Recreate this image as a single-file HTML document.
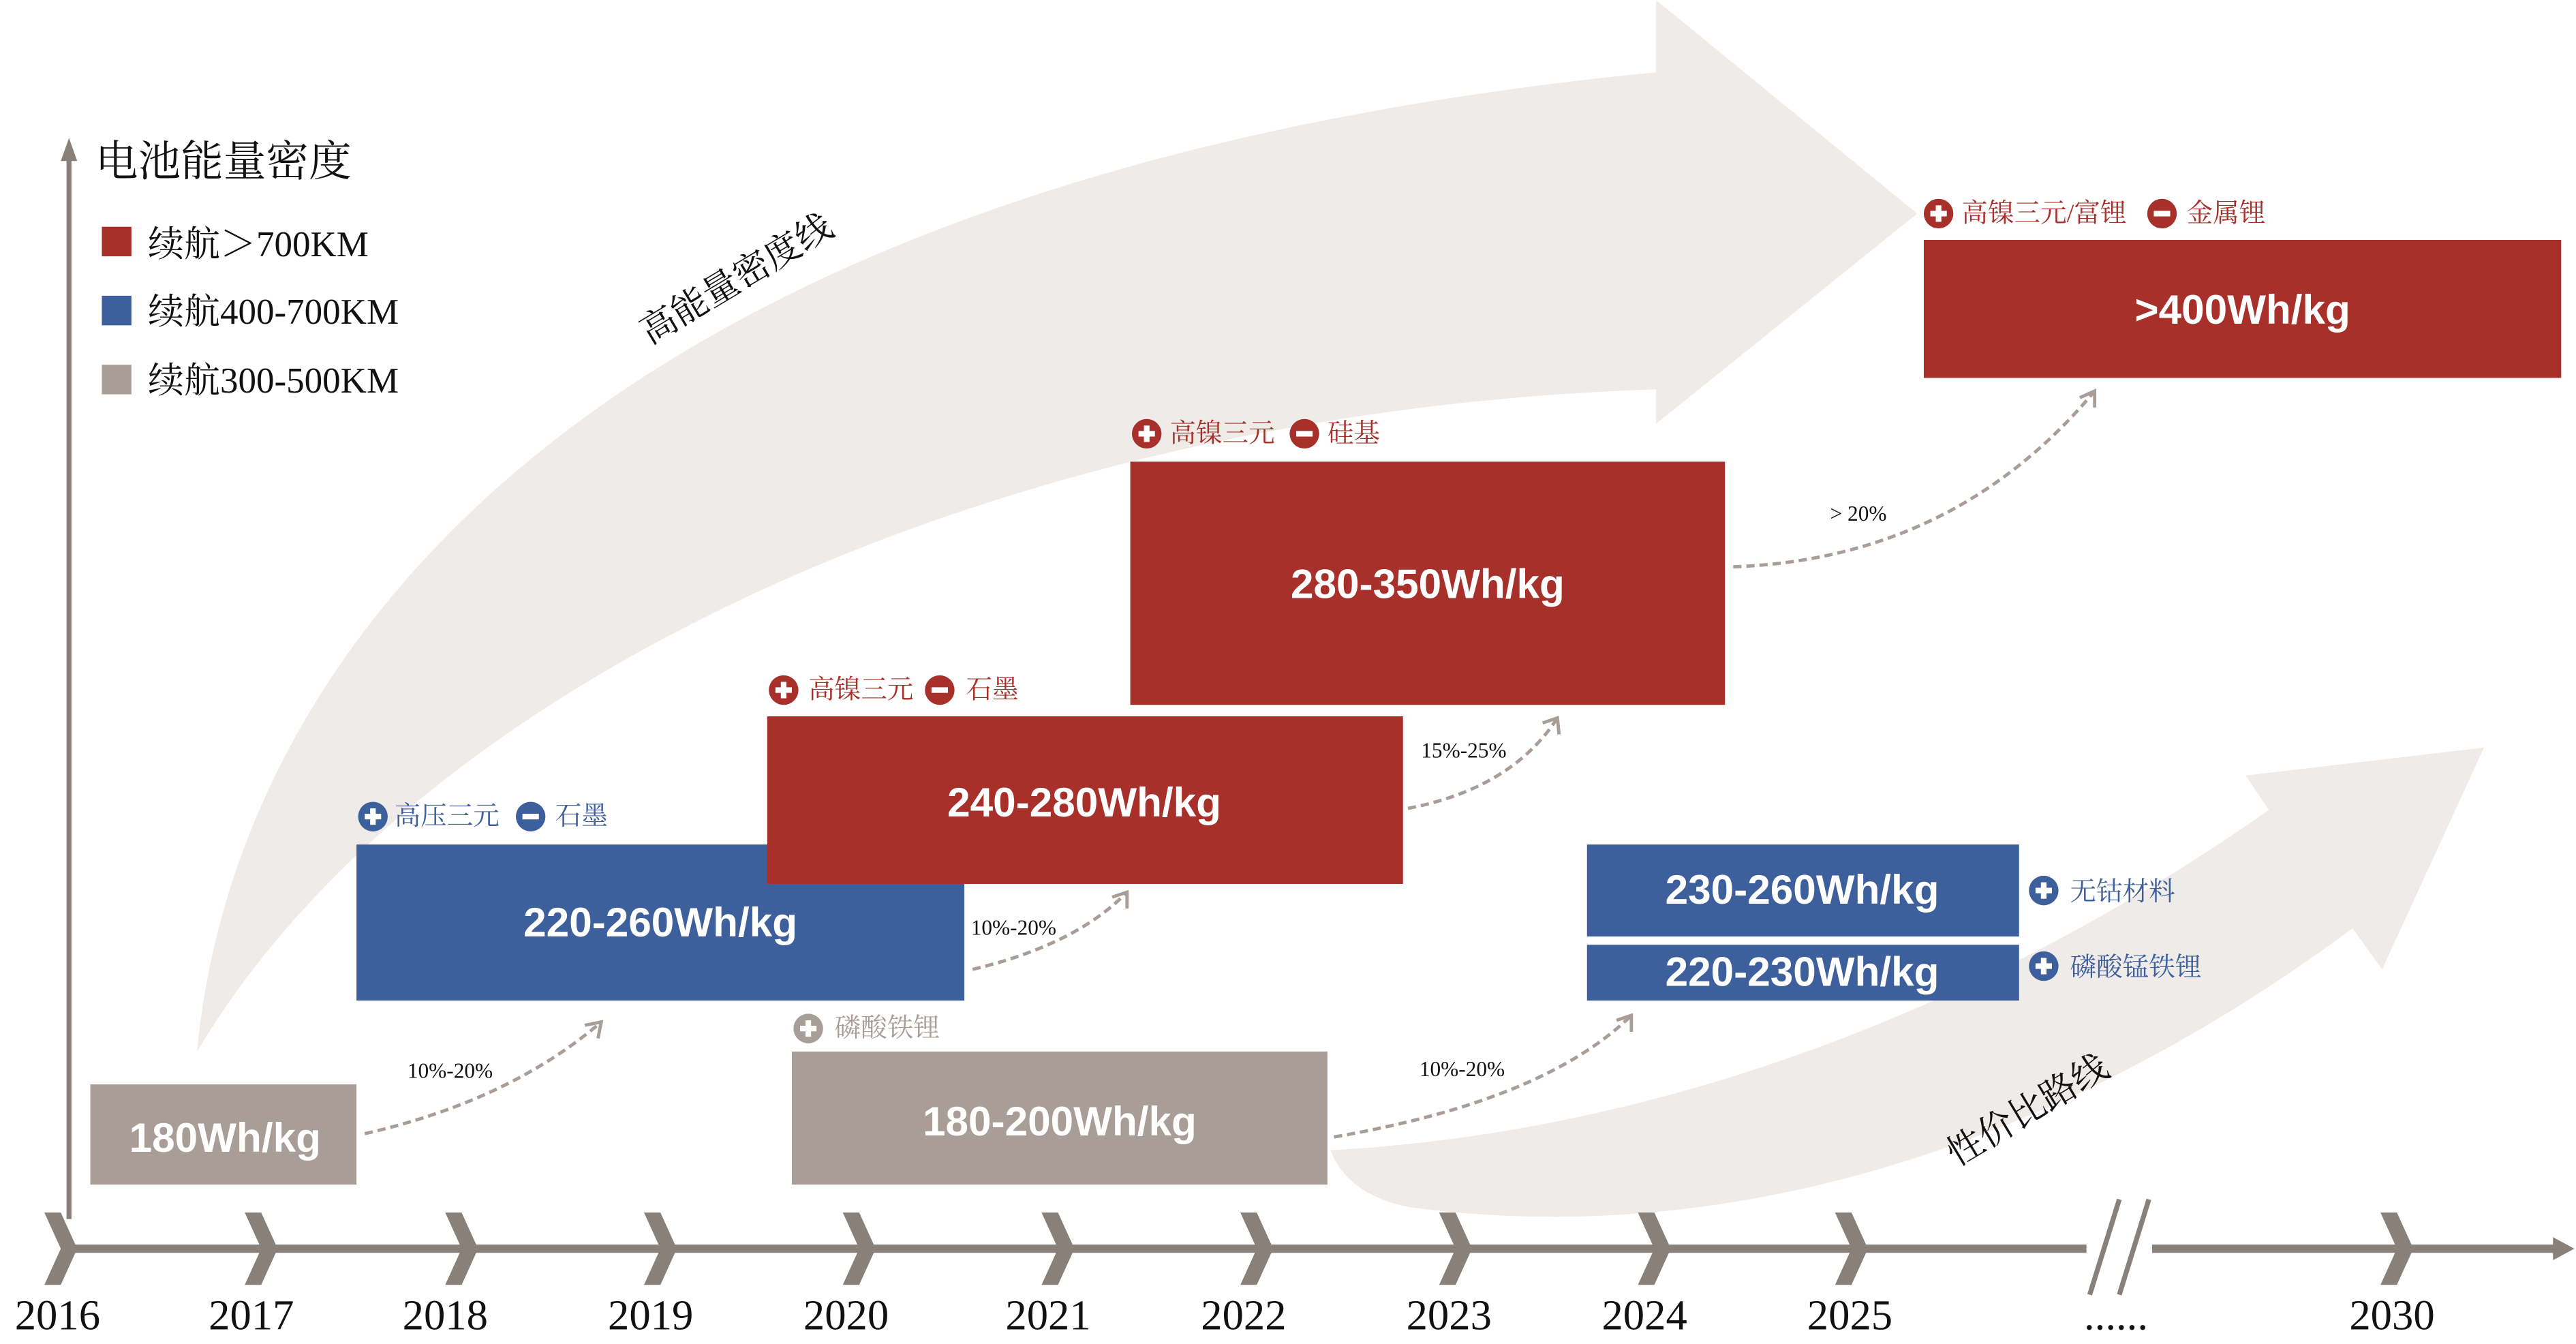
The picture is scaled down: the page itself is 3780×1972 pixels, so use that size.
<!DOCTYPE html>
<html><head><meta charset="utf-8"><style>
html,body{margin:0;padding:0;background:#fff;}
svg{display:block;}
.s{font-family:"Liberation Serif","Noto Serif CJK SC","Noto Sans CJK SC",serif;}
.b{font-family:"Liberation Sans","Noto Sans CJK SC",sans-serif;font-weight:bold;fill:#fff;}
</style></head><body>
<svg width="3780" height="1972" viewBox="0 0 1568 818" xmlns="http://www.w3.org/2000/svg">
<!-- big upper arrow -->
<path d="M120 640 C 140 420, 330 110, 1008 44 L1008 0 L1167 130 L1008 258 L1008 237 C 600 250, 250 420, 120 640 Z" fill="#efebe9"/>
<!-- lower arrow -->
<path d="M810 700 C 1000 690, 1200 620, 1381 493 L1367 472 L1512 455 L1450 590 L1432 565 C 1250 700, 1050 760, 860 735 C 830 730, 815 715, 810 700 Z" fill="#efebe9"/>

<!-- axes -->
<line x1="42" y1="92" x2="42" y2="742" stroke="#8a807a" stroke-width="3"/>
<polygon points="42,84 37,98 47,98" fill="#8a807a"/>
<line x1="40" y1="760" x2="1558" y2="760" stroke="#8a807a" stroke-width="5"/>
<polygon points="1567,760 1554,753 1554,767" fill="#8a807a"/>
<g fill="#8a807a">
<g id="c"><polygon points="27,738 37,738 47,760 37,782 27,782 37,760"/></g>
<use href="#c" x="122"/><use href="#c" x="244"/><use href="#c" x="365"/><use href="#c" x="486"/>
<use href="#c" x="607"/><use href="#c" x="728"/><use href="#c" x="849"/><use href="#c" x="970"/>
<use href="#c" x="1090"/><use href="#c" x="1422"/>
</g>
<rect x="1270" y="745" width="40" height="30" fill="#fff"/>
<line x1="1272" y1="788" x2="1290" y2="730" stroke="#8a807a" stroke-width="3"/>
<line x1="1290" y1="788" x2="1308" y2="730" stroke="#8a807a" stroke-width="3"/>

<g class="s" font-size="26" fill="#111" text-anchor="middle">
<text x="35" y="809">2016</text><text x="153" y="809">2017</text><text x="271" y="809">2018</text>
<text x="396" y="809">2019</text><text x="515" y="809">2020</text><text x="638" y="809">2021</text>
<text x="757" y="809">2022</text><text x="882" y="809">2023</text><text x="1001" y="809">2024</text>
<text x="1126" y="809">2025</text><text x="1288" y="809">......</text><text x="1456" y="809">2030</text>
</g>

<!-- legend -->
<text class="s" x="58" y="107" font-size="26" fill="#111">电池能量密度</text>
<rect x="62" y="138" width="18" height="18" fill="#a8302a"/>
<rect x="62" y="180" width="18" height="18" fill="#3d5f9b"/>
<rect x="62" y="222" width="18" height="18" fill="#a89d97"/>
<g class="s" font-size="22" fill="#111">
<text x="90" y="156">续航＞700KM</text><text x="90" y="197">续航400-700KM</text><text x="90" y="239">续航300-500KM</text>
</g>
<text class="s" font-size="22" fill="#111" text-anchor="middle" transform="translate(452,176) rotate(-31)">高能量密度线</text>
<text class="s" font-size="22" fill="#111" text-anchor="middle" transform="translate(1238,682) rotate(-31)">性价比路线</text>

<!-- boxes -->
<rect x="55" y="660" width="162" height="61" fill="#a89d97"/>
<text class="b" x="137" y="701" font-size="25" text-anchor="middle">180Wh/kg</text>
<rect x="217" y="514" width="370" height="95" fill="#3d5f9b"/>
<text class="b" x="402" y="570" font-size="25" text-anchor="middle">220-260Wh/kg</text>
<rect x="467" y="436" width="387" height="102" fill="#a8302a"/>
<text class="b" x="660" y="497" font-size="25" text-anchor="middle">240-280Wh/kg</text>
<rect x="688" y="281" width="362" height="148" fill="#a8302a"/>
<text class="b" x="869" y="364" font-size="25" text-anchor="middle">280-350Wh/kg</text>
<rect x="1171" y="146" width="388" height="84" fill="#a8302a"/>
<text class="b" x="1365" y="197" font-size="25" text-anchor="middle">&gt;400Wh/kg</text>
<rect x="482" y="640" width="326" height="81" fill="#a89d97"/>
<text class="b" x="645" y="691" font-size="25" text-anchor="middle">180-200Wh/kg</text>
<rect x="966" y="514" width="263" height="56" fill="#3d5f9b"/>
<text class="b" x="1097" y="550" font-size="25" text-anchor="middle">230-260Wh/kg</text>
<rect x="966" y="575" width="263" height="34" fill="#3d5f9b"/>
<text class="b" x="1097" y="600" font-size="25" text-anchor="middle">220-230Wh/kg</text>

<!-- dashed connectors -->
<g fill="none" stroke="#a89d97" stroke-width="2" stroke-dasharray="5,3">
<path d="M222 690 Q 310 670 366 622"/>
<path d="M592 590 Q 655 575 686 543"/>
<path d="M857 492 Q 920 480 948 437"/>
<path d="M1055 345 Q 1190 340 1275 238"/>
<path d="M812 692 Q 940 670 993 618"/>
</g>
<g fill="none" stroke="#a89d97" stroke-width="2">
<path d="M356 624 L366 622 L364 632"/>
<path d="M677 546 L686 543 L686 553"/>
<path d="M939 440 L948 437 L949 447"/>
<path d="M1266 242 L1275 238 L1275 248"/>
<path d="M984 621 L993 618 L993 628"/>
</g>
<g class="s" font-size="13" fill="#111">
<text x="248" y="656">10%-20%</text><text x="591" y="569">10%-20%</text>
<text x="865" y="461">15%-25%</text><text x="1114" y="317">&gt; 20%</text>
<text x="864" y="655">10%-20%</text>
</g>

<!-- annotation icons -->
<defs>
<g id="p"><circle r="9"/><rect x="-5" y="-1.7" width="10" height="3.4" fill="#fff"/><rect x="-1.7" y="-5" width="3.4" height="10" fill="#fff"/></g>
<g id="m"><circle r="9"/><rect x="-5" y="-1.7" width="10" height="3.4" fill="#fff"/></g>
</defs>
<g fill="#3d5f9b"><use href="#p" x="227" y="497"/><use href="#m" x="323" y="497"/><use href="#p" x="1244" y="542"/><use href="#p" x="1244" y="588"/></g>
<g fill="#a8302a"><use href="#p" x="477" y="420"/><use href="#m" x="572" y="420"/><use href="#p" x="698" y="264"/><use href="#m" x="794" y="264"/><use href="#p" x="1180" y="130"/><use href="#m" x="1316" y="130"/></g>
<g fill="#a89d97"><use href="#p" x="492" y="626"/></g>
<g class="s" font-size="16">
<text x="240" y="502" fill="#3d5f9b">高压三元</text><text x="338" y="502" fill="#3d5f9b">石墨</text>
<text x="1260" y="548" fill="#3d5f9b">无钴材料</text><text x="1260" y="594" fill="#3d5f9b">磷酸锰铁锂</text>
<text x="492" y="425" fill="#a8302a">高镍三元</text><text x="588" y="425" fill="#a8302a">石墨</text>
<text x="712" y="269" fill="#a8302a">高镍三元</text><text x="808" y="269" fill="#a8302a">硅基</text>
<text x="1194" y="135" fill="#a8302a">高镍三元/富锂</text><text x="1331" y="135" fill="#a8302a">金属锂</text>
<text x="508" y="631" fill="#a89d97">磷酸铁锂</text>
</g>
</svg>
</body></html>
